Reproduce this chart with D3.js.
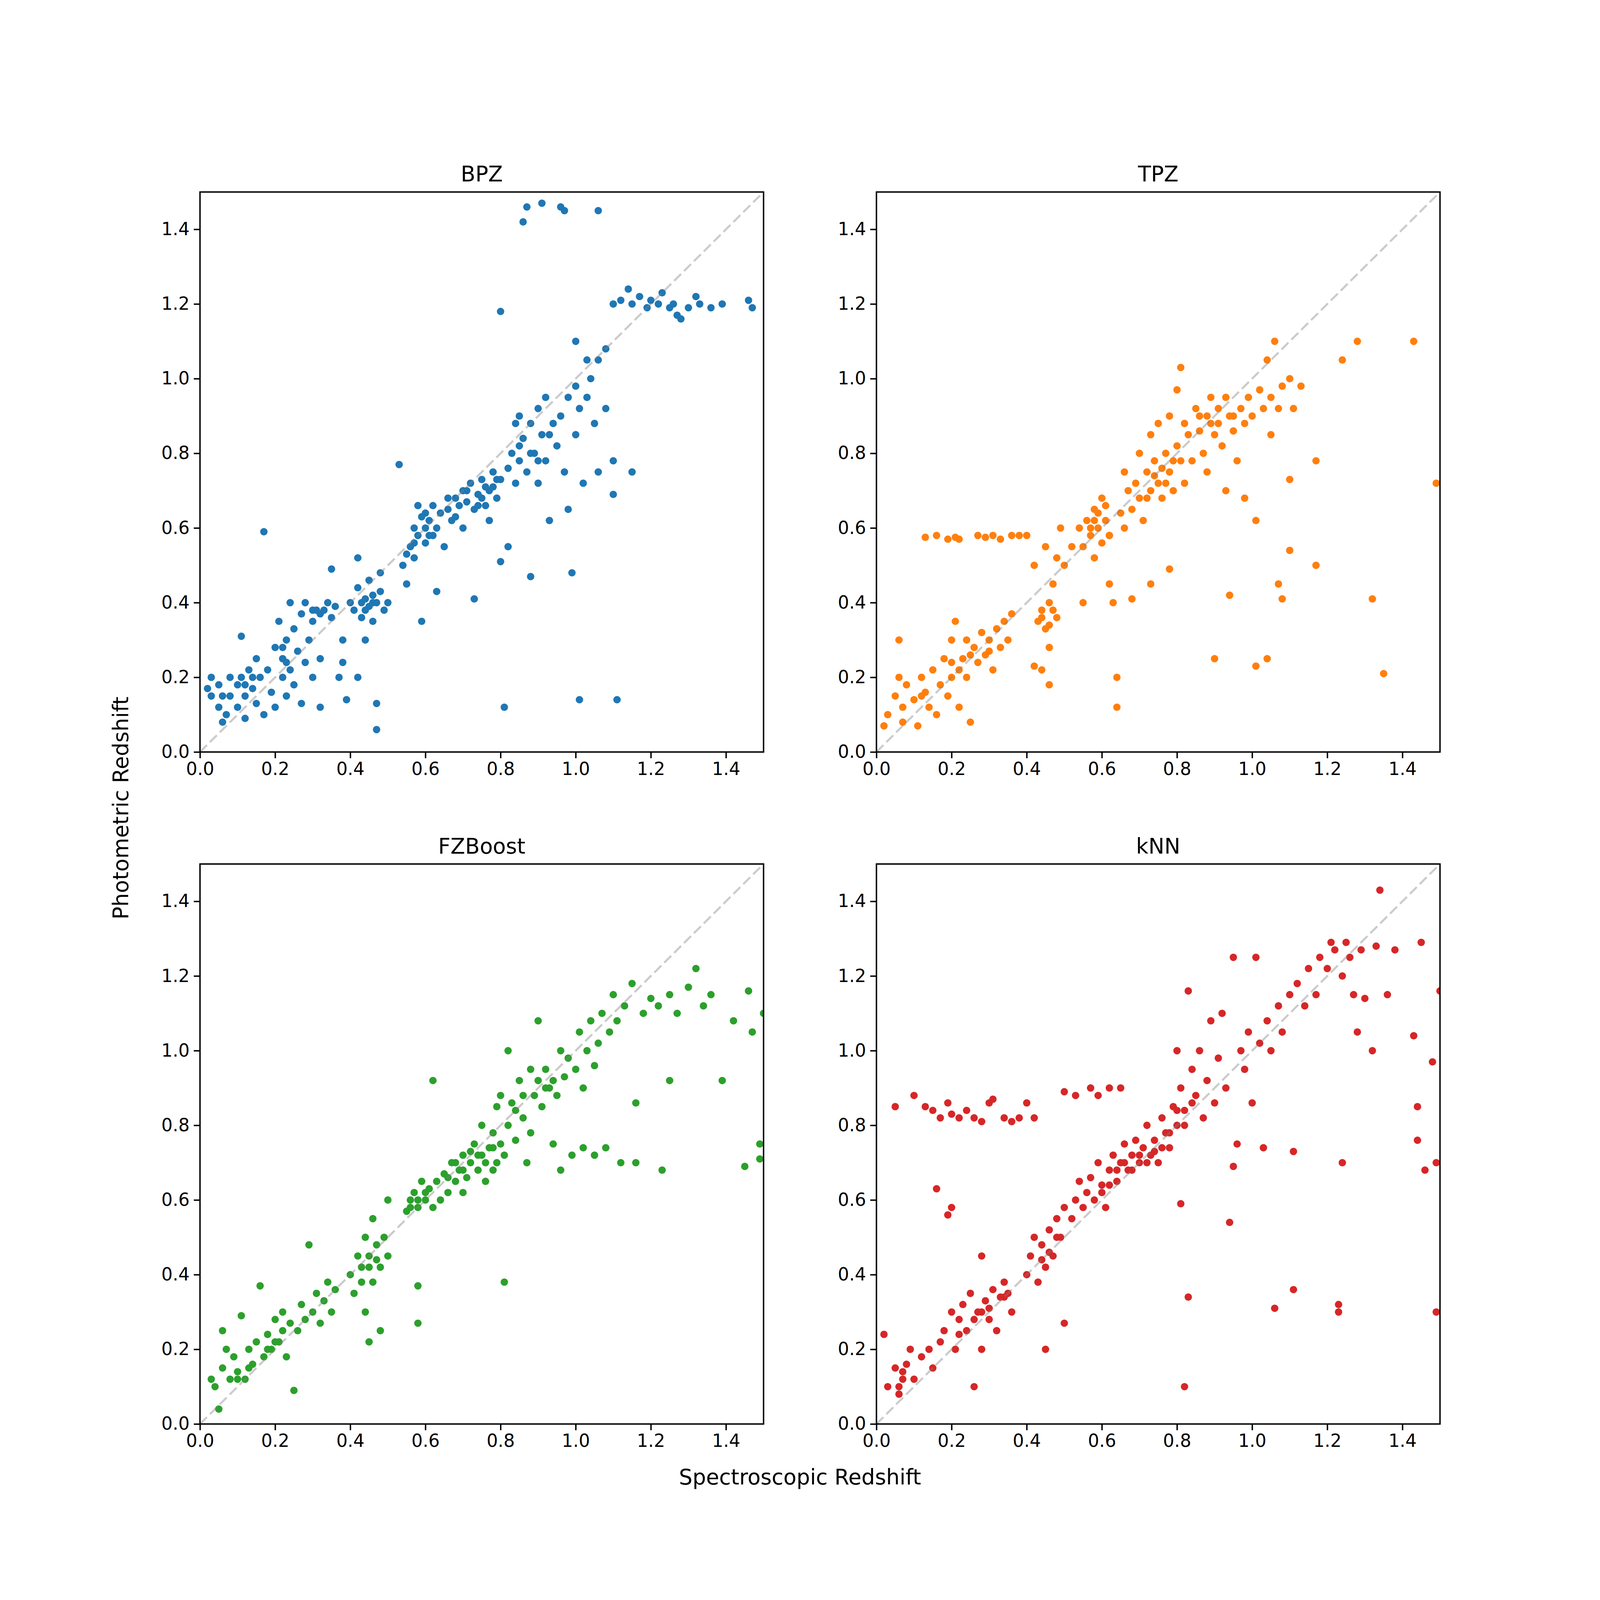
<!DOCTYPE html>
<meta charset="utf-8" />
<script src="https://d3js.org/d3.v7.js"></script>
<style>html,body{margin:0;padding:0;background:#fff;overflow:hidden}svg{display:block}</style>
<div id="chart"></div>
<script>
  // data: "specz,photz" pairs
  const bpzPts = "0.02,0.17 0.03,0.15 0.03,0.2 0.05,0.12 0.05,0.18 0.06,0.08 0.07,0.1 0.08,0.2 0.08,0.15 0.1,0.12 0.1,0.18 0.11,0.2 0.11,0.31 0.12,0.15 0.12,0.09 0.13,0.22 0.14,0.17 0.15,0.13 0.15,0.25 0.16,0.2 0.17,0.59 0.17,0.1 0.18,0.22 0.19,0.16 0.2,0.28 0.2,0.12 0.21,0.35 0.22,0.25 0.22,0.2 0.23,0.3 0.23,0.15 0.24,0.4 0.24,0.22 0.25,0.33 0.25,0.18 0.26,0.27 0.27,0.37 0.27,0.13 0.28,0.24 0.28,0.4 0.29,0.3 0.3,0.35 0.3,0.2 0.31,0.38 0.32,0.25 0.32,0.12 0.33,0.38 0.34,0.4 0.35,0.36 0.36,0.39 0.35,0.49 0.37,0.2 0.38,0.24 0.39,0.14 0.4,0.4 0.41,0.38 0.42,0.44 0.42,0.52 0.43,0.36 0.44,0.41 0.45,0.39 0.45,0.46 0.46,0.42 0.46,0.35 0.47,0.4 0.47,0.13 0.47,0.06 0.48,0.48 0.48,0.43 0.49,0.38 0.44,0.3 0.42,0.2 0.38,0.3 0.5,0.4 0.53,0.77 0.54,0.5 0.55,0.53 0.56,0.55 0.57,0.52 0.57,0.6 0.58,0.58 0.59,0.63 0.6,0.56 0.6,0.6 0.61,0.62 0.62,0.58 0.62,0.66 0.63,0.6 0.64,0.64 0.65,0.55 0.59,0.35 0.55,0.45 0.63,0.43 0.58,0.66 0.66,0.65 0.67,0.62 0.68,0.68 0.69,0.66 0.7,0.7 0.7,0.6 0.71,0.67 0.72,0.72 0.73,0.65 0.73,0.41 0.74,0.69 0.75,0.68 0.75,0.73 0.76,0.66 0.77,0.7 0.77,0.62 0.78,0.71 0.78,0.75 0.79,0.68 0.8,0.73 0.8,0.51 0.8,1.18 0.81,0.12 0.82,0.76 0.82,0.55 0.83,0.8 0.84,0.88 0.84,0.72 0.85,0.9 0.85,0.78 0.86,0.84 0.87,0.75 0.88,0.88 0.88,0.47 0.89,0.8 0.9,0.92 0.9,0.72 0.91,0.85 0.92,0.78 0.92,0.95 0.93,0.62 0.94,0.88 0.95,0.82 0.96,0.9 0.97,0.75 0.98,0.95 0.98,0.65 0.99,0.48 1.0,0.98 1.0,0.85 1.01,0.92 1.02,0.72 1.03,1.05 1.03,0.95 1.04,1.0 1.05,0.88 1.06,1.05 1.06,0.75 1.08,0.92 1.08,1.08 1.1,0.78 1.1,0.69 1.11,0.14 1.15,0.75 1.01,0.14 1.0,1.1 1.1,1.2 1.12,1.21 1.14,1.24 1.15,1.2 1.17,1.22 1.19,1.19 1.2,1.21 1.22,1.2 1.23,1.23 1.25,1.19 1.26,1.2 1.27,1.17 1.28,1.16 1.3,1.19 1.32,1.22 1.33,1.2 1.36,1.19 1.39,1.2 1.46,1.21 1.47,1.19 0.86,1.42 0.87,1.46 0.91,1.47 0.96,1.46 0.97,1.45 1.06,1.45 0.66,0.68 0.68,0.63 0.71,0.7 0.74,0.66 0.76,0.71 0.79,0.73 0.6,0.64 0.61,0.58 0.57,0.56 0.43,0.4 0.44,0.38 0.46,0.4 0.32,0.37 0.3,0.38 0.12,0.18 0.14,0.2 0.06,0.15 0.22,0.28 0.23,0.24 0.85,0.82 0.88,0.8 0.9,0.78 0.93,0.85";
  const tpzPts = "0.02,0.07 0.03,0.1 0.05,0.15 0.06,0.3 0.06,0.2 0.07,0.12 0.07,0.08 0.08,0.18 0.1,0.14 0.11,0.07 0.12,0.2 0.13,0.16 0.14,0.12 0.15,0.22 0.16,0.1 0.17,0.18 0.18,0.25 0.19,0.15 0.2,0.3 0.2,0.2 0.21,0.35 0.22,0.12 0.23,0.25 0.24,0.2 0.24,0.3 0.25,0.08 0.26,0.28 0.27,0.24 0.28,0.32 0.29,0.26 0.3,0.3 0.31,0.22 0.32,0.33 0.33,0.28 0.34,0.35 0.35,0.3 0.36,0.37 0.13,0.575 0.16,0.58 0.19,0.57 0.21,0.575 0.22,0.57 0.27,0.58 0.29,0.575 0.31,0.58 0.33,0.57 0.36,0.58 0.38,0.58 0.4,0.58 0.42,0.5 0.43,0.35 0.44,0.38 0.45,0.33 0.45,0.55 0.46,0.4 0.46,0.28 0.47,0.45 0.48,0.52 0.48,0.36 0.49,0.6 0.5,0.5 0.42,0.23 0.44,0.22 0.46,0.18 0.52,0.55 0.54,0.6 0.55,0.4 0.55,0.55 0.56,0.62 0.57,0.58 0.58,0.52 0.58,0.65 0.59,0.6 0.6,0.56 0.6,0.68 0.61,0.62 0.62,0.58 0.62,0.45 0.63,0.4 0.64,0.2 0.64,0.12 0.65,0.64 0.66,0.6 0.66,0.75 0.67,0.7 0.68,0.65 0.69,0.72 0.7,0.68 0.7,0.8 0.71,0.62 0.72,0.75 0.73,0.7 0.73,0.85 0.74,0.78 0.75,0.72 0.75,0.88 0.76,0.68 0.77,0.8 0.78,0.75 0.78,0.9 0.79,0.7 0.8,0.82 0.8,0.97 0.81,0.78 0.81,1.03 0.82,0.72 0.82,0.88 0.83,0.85 0.84,0.78 0.85,0.92 0.86,0.86 0.87,0.8 0.88,0.9 0.88,0.75 0.89,0.95 0.9,0.85 0.91,0.88 0.92,0.82 0.93,0.95 0.93,0.7 0.94,0.9 0.95,0.86 0.96,0.78 0.97,0.92 0.98,0.88 0.98,0.68 0.99,0.95 1.0,0.9 1.01,0.62 1.02,0.97 1.03,0.92 1.04,1.05 1.05,0.95 1.05,0.85 1.06,1.1 1.07,0.92 1.08,0.98 1.1,1.0 1.11,0.92 1.13,0.98 1.1,0.73 1.1,0.54 1.07,0.45 1.08,0.41 1.17,0.78 1.17,0.5 0.9,0.25 0.94,0.42 1.01,0.23 1.04,0.25 1.24,1.05 1.28,1.1 1.32,0.41 1.35,0.21 1.43,1.1 1.49,0.72 0.78,0.49 0.68,0.41 0.73,0.45 0.62,0.58 0.57,0.6 0.59,0.64 0.61,0.66 0.58,0.62 0.74,0.74 0.76,0.76 0.79,0.78 0.77,0.72 0.72,0.68 0.86,0.9 0.89,0.88 0.91,0.92 0.95,0.9 0.44,0.36 0.46,0.34 0.47,0.38 0.2,0.24 0.22,0.22 0.25,0.26 0.3,0.27 0.12,0.15";
  const fzbPts = "0.03,0.12 0.04,0.1 0.05,0.04 0.06,0.15 0.06,0.25 0.07,0.2 0.08,0.12 0.09,0.18 0.1,0.14 0.11,0.29 0.12,0.12 0.13,0.2 0.14,0.16 0.15,0.22 0.16,0.37 0.17,0.18 0.18,0.24 0.19,0.2 0.2,0.28 0.21,0.22 0.22,0.3 0.23,0.18 0.24,0.27 0.25,0.09 0.26,0.25 0.27,0.32 0.28,0.28 0.29,0.48 0.3,0.3 0.31,0.35 0.32,0.27 0.33,0.33 0.34,0.38 0.35,0.3 0.36,0.36 0.4,0.4 0.41,0.35 0.42,0.45 0.43,0.42 0.44,0.5 0.44,0.3 0.45,0.22 0.45,0.45 0.46,0.38 0.46,0.55 0.47,0.48 0.48,0.42 0.48,0.25 0.49,0.5 0.5,0.45 0.5,0.6 0.55,0.57 0.56,0.6 0.57,0.62 0.58,0.58 0.58,0.37 0.58,0.27 0.59,0.65 0.6,0.6 0.61,0.63 0.62,0.58 0.62,0.92 0.63,0.65 0.64,0.6 0.65,0.67 0.66,0.62 0.67,0.7 0.68,0.65 0.69,0.68 0.7,0.72 0.7,0.62 0.71,0.66 0.72,0.7 0.73,0.75 0.74,0.68 0.75,0.72 0.75,0.8 0.76,0.65 0.77,0.74 0.78,0.78 0.78,0.68 0.79,0.85 0.8,0.75 0.8,0.88 0.81,0.38 0.81,0.72 0.82,0.8 0.82,1.0 0.83,0.86 0.84,0.76 0.85,0.92 0.86,0.82 0.87,0.7 0.88,0.95 0.88,0.78 0.89,0.88 0.9,0.92 0.9,1.08 0.91,0.85 0.92,0.95 0.93,0.9 0.94,0.75 0.95,0.88 0.96,1.0 0.96,0.68 0.97,0.93 0.98,0.98 0.99,0.72 1.0,0.95 1.01,1.05 1.02,0.9 1.02,0.74 1.03,1.0 1.04,1.08 1.05,0.96 1.05,0.72 1.06,1.02 1.07,1.1 1.08,0.74 1.09,1.05 1.1,1.15 1.11,1.08 1.12,0.7 1.13,1.12 1.15,1.18 1.16,0.86 1.16,0.7 1.18,1.1 1.2,1.14 1.22,1.12 1.23,0.68 1.25,0.92 1.25,1.15 1.27,1.1 1.3,1.17 1.32,1.22 1.34,1.12 1.36,1.15 1.39,0.92 1.42,1.08 1.45,0.69 1.46,1.16 1.47,1.05 1.49,0.75 1.49,0.71 1.5,1.1 0.72,0.73 0.74,0.72 0.76,0.7 0.78,0.74 0.79,0.7 0.7,0.68 0.68,0.7 0.66,0.66 0.6,0.62 0.58,0.6 0.56,0.58 0.45,0.42 0.47,0.44 0.43,0.38 0.22,0.25 0.2,0.22 0.18,0.2 0.13,0.15 0.1,0.12 0.84,0.84 0.86,0.88 0.92,0.9 0.94,0.92";
  const knnPts = "0.02,0.24 0.03,0.1 0.05,0.15 0.06,0.08 0.07,0.12 0.08,0.16 0.09,0.2 0.1,0.12 0.12,0.18 0.14,0.2 0.15,0.15 0.17,0.22 0.18,0.25 0.2,0.3 0.21,0.2 0.22,0.28 0.23,0.32 0.24,0.25 0.25,0.35 0.26,0.28 0.26,0.1 0.27,0.3 0.28,0.45 0.28,0.2 0.29,0.33 0.3,0.28 0.31,0.36 0.32,0.25 0.33,0.34 0.34,0.38 0.35,0.35 0.36,0.3 0.05,0.85 0.1,0.88 0.13,0.85 0.15,0.84 0.17,0.82 0.19,0.86 0.2,0.83 0.22,0.82 0.24,0.84 0.26,0.82 0.28,0.81 0.3,0.86 0.31,0.87 0.34,0.82 0.36,0.81 0.38,0.82 0.4,0.86 0.42,0.82 0.5,0.89 0.53,0.88 0.57,0.9 0.59,0.88 0.62,0.9 0.65,0.9 0.16,0.63 0.19,0.56 0.2,0.58 0.4,0.4 0.41,0.45 0.42,0.5 0.43,0.38 0.44,0.48 0.45,0.42 0.45,0.2 0.46,0.52 0.47,0.45 0.48,0.55 0.49,0.5 0.5,0.27 0.5,0.58 0.52,0.55 0.53,0.6 0.54,0.65 0.55,0.58 0.56,0.62 0.57,0.66 0.58,0.6 0.59,0.7 0.6,0.64 0.61,0.58 0.62,0.68 0.63,0.72 0.64,0.65 0.65,0.7 0.66,0.75 0.67,0.68 0.68,0.72 0.69,0.76 0.7,0.7 0.71,0.74 0.72,0.8 0.73,0.72 0.74,0.76 0.75,0.7 0.76,0.82 0.77,0.78 0.78,0.74 0.79,0.85 0.8,0.8 0.8,1.0 0.81,0.59 0.81,0.9 0.82,0.1 0.82,0.84 0.83,1.16 0.83,0.34 0.84,0.95 0.85,0.88 0.86,1.0 0.87,0.82 0.88,0.92 0.89,1.08 0.9,0.86 0.91,0.98 0.92,1.1 0.93,0.9 0.94,0.54 0.95,1.25 0.95,0.69 0.96,0.75 0.97,1.0 0.98,0.95 0.99,1.05 1.0,0.86 1.01,1.25 1.02,1.02 1.03,0.74 1.04,1.08 1.05,1.0 1.06,0.31 1.07,1.12 1.08,1.05 1.1,1.15 1.11,0.36 1.11,0.73 1.12,1.18 1.14,1.12 1.15,1.22 1.17,1.15 1.18,1.25 1.2,1.22 1.21,1.29 1.22,1.27 1.23,0.32 1.23,0.3 1.24,1.2 1.24,0.7 1.25,1.29 1.26,1.25 1.27,1.15 1.28,1.05 1.29,1.27 1.3,1.14 1.32,1.0 1.33,1.28 1.34,1.43 1.36,1.15 1.38,1.27 1.43,1.04 1.44,0.85 1.44,0.76 1.45,1.29 1.46,0.68 1.48,0.97 1.49,0.7 1.49,0.3 1.5,1.16 0.6,0.62 0.62,0.64 0.64,0.68 0.66,0.7 0.68,0.68 0.7,0.72 0.72,0.7 0.74,0.73 0.76,0.74 0.78,0.78 0.8,0.84 0.82,0.8 0.84,0.86 0.44,0.44 0.46,0.46 0.48,0.5 0.28,0.3 0.3,0.31 0.34,0.34 0.22,0.24 0.06,0.1 0.07,0.14";

  const titles = ["BPZ", "TPZ", "FZBoost", "kNN"];
  const colors = ["#1f77b4", "#ff7f0e", "#2ca02c", "#d62728"];
  const series = [bpzPts, tpzPts, fzbPts, knnPts];
  const ticks = [0, 0.2, 0.4, 0.6, 0.8, 1.0, 1.2, 1.4];

  const W = 5400, H = 5400;
  const panelW = 1902, panelH = 1890;
  const lefts = [675, 2958], tops = [648, 2916];

  const svg = d3.select("#chart").append("svg")
    .attr("viewBox", `0 0 ${W} ${H}`)
    .attr("preserveAspectRatio", "xMinYMin meet")
    .style("width", "100vw").style("height", "100vh")
    .style("font-family", "DejaVu Sans");

  series.forEach(function (s, i) {
    const data = s.split(" ").map(function (p) {
      const v = p.split(","); return { x: +v[0], y: +v[1] };
    });
    const g = svg.append("g")
      .attr("transform", `translate(${lefts[i % 2]}, ${tops[Math.floor(i / 2)]})`);

    const x = d3.scaleLinear().domain([0, 1.5]).range([0, panelW]);
    const y = d3.scaleLinear().domain([0, 1.5]).range([panelH, 0]);

    g.append("clipPath").attr("id", "clip" + i)
      .append("rect").attr("width", panelW).attr("height", panelH);

    const plot = g.append("g").attr("clip-path", `url(#clip${i})`);
    plot.selectAll("circle").data(data).join("circle")
      .attr("cx", d => x(d.x)).attr("cy", d => y(d.y))
      .attr("r", 12.5).attr("fill", colors[i]);

    // one-to-one line
    plot.append("line")
      .attr("x1", x(0)).attr("y1", y(0)).attr("x2", x(1.5)).attr("y2", y(1.5))
      .attr("stroke", "#808080").attr("stroke-width", 7)
      .attr("stroke-dasharray", "33,14").attr("opacity", 0.4);

    const xAxis = g.append("g").attr("transform", `translate(0, ${panelH})`)
      .call(d3.axisBottom(x).tickValues(ticks).tickFormat(d3.format(".1f")).tickSize(21).tickPadding(14));
    const yAxis = g.append("g")
      .call(d3.axisLeft(y).tickValues(ticks).tickFormat(d3.format(".1f")).tickSize(21).tickPadding(14));
    [xAxis, yAxis].forEach(function (a) {
      a.select(".domain").remove();
      a.selectAll("line").attr("stroke", "black").attr("stroke-width", 4.8);
      a.selectAll("text").style("font-size", "60px").style("font-family", "DejaVu Sans").attr("fill", "black");
    });

    g.append("rect").attr("width", panelW).attr("height", panelH)
      .attr("fill", "none").attr("stroke", "black").attr("stroke-width", 4.8);

    g.append("text").attr("x", panelW / 2).attr("y", -36)
      .attr("text-anchor", "middle").style("font-size", "72px").text(titles[i]);
  });

  svg.append("text").attr("x", 2700).attr("y", 5010)
    .attr("text-anchor", "middle").style("font-size", "72px").text("Spectroscopic Redshift");
  svg.append("text").attr("transform", "translate(432, 2727) rotate(-90)")
    .attr("text-anchor", "middle").style("font-size", "72px").text("Photometric Redshift");
</script>
